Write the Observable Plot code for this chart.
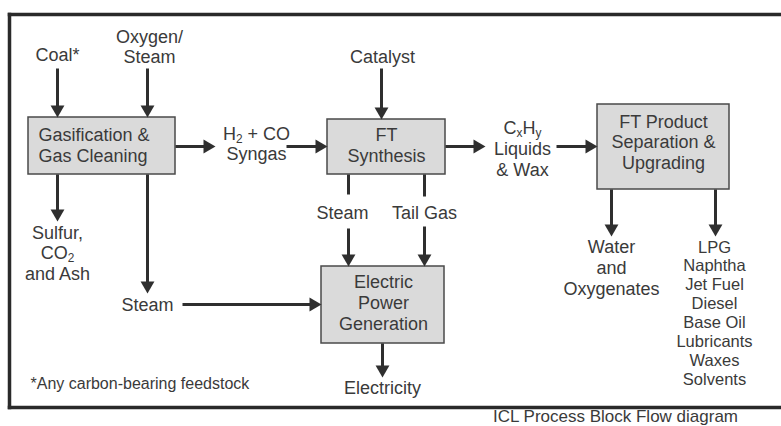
<!DOCTYPE html>
<html><head><meta charset="utf-8">
<script src="https://cdn.jsdelivr.net/npm/d3@7"></script>
<script src="https://cdn.jsdelivr.net/npm/@observablehq/plot@0.6"></script>
<style>html,body{margin:0;padding:0;background:#fff;overflow:hidden}#chart svg{display:block}</style>
</head><body><div id="chart"></div>
<script>
// ---- Content (labels) ----
const blockLabels = ["Gasification &\nGas Cleaning", "FT\nSynthesis", "FT Product\nSeparation &\nUpgrading", "Electric\nPower\nGeneration"];
const feedLabels = ["Coal*", "Oxygen/\nSteam", "Catalyst"];
const streamLabels = ["H_2 + CO\nSyngas", "C_xH_y\nLiquids\n& Wax", "Steam", "Tail Gas", "Steam"];
const outputLabels = ["Sulfur,\nCO_2\nand Ash", "Water\nand\nOxygenates", "Electricity"];
const productLabels = ["LPG", "Naphtha", "Jet Fuel", "Diesel", "Base Oil", "Lubricants", "Waxes", "Solvents"];
const footnote = "*Any carbon-bearing feedstock";
const caption = "ICL Process Block Flow diagram";

// ---- Layout (positions in pixel space) ----
const blockBoxes = [[28, 175, 117, 174], [327, 445, 119, 174], [597, 729, 104, 189], [321, 444, 266, 343]];
const blockText = [[38, 140, 21.5, "start"], [386, 140, 21.5], [663, 127, 20.8], [383, 287, 21]];
const feedText = [[57, 60], [149, 42, 20], [382, 62]];
const streamText = [[256, 139, 20.5], [522, 133.5, 20.8], [342, 218], [424, 218], [147, 310]];
const outputText = [[57, 238, 20.5], [611, 252, 21], [382, 393]];
const productText = [714, 252, 18.9, "middle", 16.5];
const footText = [30, 388, 0, "start", 16];
const captionText = [615, 421, 0, "middle", 17];
const frameSegs = [[9, 14, 781, 14], [9, 407, 781, 407], [9, 14, 9, 407]];
const flowSegs = [
  [57, 68, 57, 117, 1], [147, 68, 147, 117, 1], [381, 68, 381, 119, 1],
  [175, 146, 215, 146, 1], [286, 146, 327, 146, 1], [445, 146, 485, 146, 1], [556, 146, 597, 146, 1],
  [57, 174, 57, 221, 1], [147, 174, 147, 293, 1], [182, 304, 321, 304, 1],
  [348, 174, 348, 194, 0], [424, 174, 424, 196, 0],
  [348, 228, 348, 266, 1], [424, 226, 424, 266, 1], [382, 343, 382, 377, 1],
  [611, 189, 611, 236, 1], [715, 189, 715, 236, 1]
];

// ---- Build tables ----
function lines(label, [x, b, lh = 20, anchor = "middle", size = 18]) {
  return label.split("\n").map((t, i) => ({text: t, x, y: b + i * lh, anchor, size}));
}
const rows = [
  ...blockLabels.flatMap((l, i) => lines(l, blockText[i])),
  ...feedLabels.flatMap((l, i) => lines(l, feedText[i])),
  ...streamLabels.flatMap((l, i) => lines(l, streamText[i])),
  ...outputLabels.flatMap((l, i) => lines(l, outputText[i])),
  ...lines(productLabels.join("\n"), productText),
  ...lines(footnote, footText),
  ...lines(caption, captionText)
];
const boxes = blockBoxes.map(([x1, x2, y1, y2]) => ({x1, x2, y1, y2}));
const frame = frameSegs.map(([x1, y1, x2, y2]) => ({x1, y1, x2, y2}));
const HEAD = 8; // centroid-to-tip distance
const links = [], heads = [];
for (const [x1, y1, x2, y2, h] of flowSegs) {
  const L = Math.hypot(x2 - x1, y2 - y1), dx = (x2 - x1) / L, dy = (y2 - y1) / L;
  if (h) {
    links.push({x1, y1, x2: x2 - dx * HEAD, y2: y2 - dy * HEAD});
    heads.push({x: x2 - dx * HEAD, y: y2 - dy * HEAD, rot: Math.atan2(dx, -dy) * 180 / Math.PI});
  } else links.push({x1, y1, x2, y2});
}

const FONT = "Liberation Sans, Arial, Helvetica, sans-serif";
const INK = "#2f2f2f", TXT = "#3a3a3a";
const plot = Plot.plot({
  width: 781, height: 426, margin: 0,
  x: {domain: [0, 781], axis: null},
  y: {domain: [0, 426], axis: null, reverse: true},
  style: {fontFamily: FONT, background: "#fff"},
  marks: [
    Plot.link(frame, {x1: "x1", y1: "y1", x2: "x2", y2: "y2", stroke: "#2a2a2a", strokeWidth: 3.5, strokeLinecap: "square"}),
    Plot.rect(boxes, {x1: "x1", x2: "x2", y1: "y1", y2: "y2", fill: "#dadada", stroke: "#4a4a4a", strokeWidth: 1.5}),
    Plot.link(links, {x1: "x1", y1: "y1", x2: "x2", y2: "y2", stroke: INK, strokeWidth: 3}),
    Plot.dot(heads, {x: "x", y: "y", rotate: "rot", symbol: "triangle", r: 5.14, fill: INK, stroke: "none"}),
    Plot.text(rows.filter(d => d.anchor === "middle"), {x: "x", y: "y", text: "text", textAnchor: "middle", lineAnchor: "bottom", fontSize: d => d.size, fill: TXT, fontFamily: FONT}),
    Plot.text(rows.filter(d => d.anchor === "start"), {x: "x", y: "y", text: "text", textAnchor: "start", lineAnchor: "bottom", fontSize: d => d.size, fill: TXT, fontFamily: FONT})
  ]
});

// subscripts: "_c" marks a subscript character
const SUB = 3;
d3.select(plot).selectAll("text").each(function () {
  const s = this.textContent;
  if (!s.includes("_") || this.children.length) return;
  const el = d3.select(this);
  el.text(null);
  let i = 0, buf = "", shifted = false;
  const flush = () => { if (buf) { const t = el.append("tspan").text(buf); if (shifted) { t.attr("dy", -SUB); shifted = false; } buf = ""; } };
  while (i < s.length) {
    if (s[i] === "_" && i + 1 < s.length) {
      flush();
      el.append("tspan").attr("dy", shifted ? 0 : SUB).attr("font-size", "66%").text(s[i + 1]);
      shifted = true; i += 2;
    } else { buf += s[i]; i++; }
  }
  if (buf) flush();
});

document.getElementById("chart").appendChild(plot);
</script>
</body></html>
